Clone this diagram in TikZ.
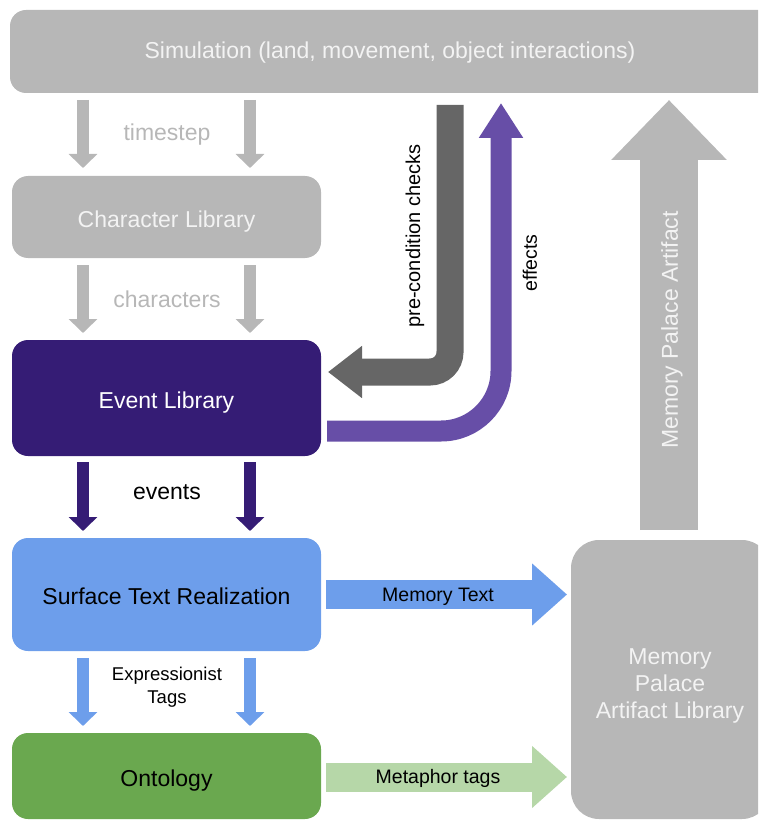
\documentclass[tikz,border=0pt]{standalone}
\usepackage{fontspec}
\setmainfont{Liberation Sans}
\usetikzlibrary{arrows.meta}
\definecolor{boxgray}{HTML}{B7B7B7}
\definecolor{evpurple}{HTML}{351C75}
\definecolor{effpurple}{HTML}{674EA7}
\definecolor{chkgray}{HTML}{666666}
\definecolor{stblue}{HTML}{6D9EEB}
\definecolor{ontgreen}{HTML}{6AA84F}
\definecolor{lightgreen}{HTML}{B6D7A8}
\definecolor{softwhite}{HTML}{F3F3F3}
\begin{document}
\begin{tikzpicture}[x=1pt,y=-1pt,
  box/.style={rounded corners=16pt, inner sep=0pt, align=center, text height=20pt, text depth=0pt, font=\fontsize{23}{27}\selectfont},
  bigtxt/.style={inner sep=0pt, align=center, font=\fontsize{23}{27}\selectfont},
  midtxt/.style={inner sep=0pt, align=center, font=\fontsize{19.5}{23}\selectfont},
  smalltxt/.style={inner sep=0pt, align=center, font=\fontsize{18.5}{23}\selectfont},
  downarrow/.style={line width=12pt, -{Triangle[width=28pt,length=14pt]}},
  sidearrow/.style={line width=29pt, -{Triangle[width=60pt,length=35pt]}},
]
\useasboundingbox (0,0) rectangle (758,821);
\clip (0,0) rectangle (758,821);

% boxes
\node[box, fill=boxgray, minimum width=800pt, minimum height=83pt] (sim) at (410,51.5) {};
\node[bigtxt, text=softwhite] (simtxt) at (390,53) {Simulation (land, movement, object interactions)};
\node[box, fill=boxgray, text=softwhite, minimum width=309pt, minimum height=82pt] (char) at (166.5,217) {Character Library};
\node[box, fill=evpurple, text=white, minimum width=309pt, minimum height=116pt] (evt) at (166.5,398) {Event Library};
\node[box, fill=stblue, text=black, minimum width=309pt, minimum height=113pt] (surf) at (166.5,594.5) {Surface Text Realization};
\node[box, fill=ontgreen, text=black, minimum width=309pt, minimum height=86pt] (ont) at (166.5,776) {Ontology};
\node[box, rounded corners=28pt, fill=boxgray, minimum width=199pt, minimum height=279pt] (mpal) at (670.5,679.5) {};
\node[bigtxt, text=softwhite] (mpaltxt) at (670,685.5) {Memory\\Palace\\Artifact Library};

% coordinates for arrow ends
\coordinate (t1a) at (83,100);  \coordinate (t1b) at (83,168);
\coordinate (t2a) at (250,100); \coordinate (t2b) at (250,168);
\coordinate (c1a) at (83,265);  \coordinate (c1b) at (83,333);
\coordinate (c2a) at (250,265); \coordinate (c2b) at (250,333);
\coordinate (e1a) at (83,462);  \coordinate (e1b) at (83,531);
\coordinate (e2a) at (250,462); \coordinate (e2b) at (250,531);
\coordinate (x1a) at (83,658);  \coordinate (x1b) at (83,726);
\coordinate (x2a) at (250,658); \coordinate (x2b) at (250,726);
\coordinate (mta) at (326,594.5); \coordinate (mtb) at (567,594.5);
\coordinate (mfa) at (326,777);   \coordinate (mfb) at (567,777);
\coordinate (upa) at (669,530);   \coordinate (upb) at (669,100);
\coordinate (pca) at (450,105);   \coordinate (pcc) at (450,372); \coordinate (pcb) at (328,372);
\coordinate (efa) at (327,431);   \coordinate (efc) at (501,431); \coordinate (efb) at (501,103);

% vertical arrows
\draw[downarrow, boxgray] (t1a) -- (t1b);
\draw[downarrow, boxgray] (t2a) -- (t2b);
\draw[downarrow, boxgray] (c1a) -- (c1b);
\draw[downarrow, boxgray] (c2a) -- (c2b);
\draw[downarrow, evpurple] (e1a) -- (e1b);
\draw[downarrow, evpurple] (e2a) -- (e2b);
\draw[downarrow, stblue] (x1a) -- (x1b);
\draw[downarrow, stblue] (x2a) -- (x2b);

% side arrows
\draw[sidearrow, stblue] (mta) -- (mtb);
\draw[sidearrow, lightgreen] (mfa) -- (mfb);

% up arrow
\draw[boxgray, line width=58pt, -{Triangle[width=112pt,length=60pt]}] (upa) -- (upb);

% bent arrows
\draw[chkgray, line width=27pt, rounded corners=20pt, -{Triangle[width=50pt,length=34pt]}] (pca) -- (pcc) -- (pcb);
\draw[effpurple, line width=21pt, rounded corners=60pt, -{Triangle[width=42pt,length=35pt]}] (efa) -- (efc) -- (efb);

% labels
\node[bigtxt, text=boxgray] (lts) at (167,135) {timestep};
\node[bigtxt, text=boxgray] (lch) at (167,299) {characters};
\node[bigtxt, text=black] (lev) at (167,492) {events};
\node[smalltxt, text=black] (lex) at (167,687) {Expressionist\\Tags};
\node[midtxt, text=black] (lmt) at (438,597) {Memory Text};
\node[midtxt, text=black] (lmf) at (438,778) {Metaphor tags};
\node[bigtxt, text=softwhite, rotate=90] (lmp) at (672,330) {Memory Palace Artifact};
\node[inner sep=0pt, font=\fontsize{20}{24}\selectfont, rotate=90] (lpc) at (415,236) {pre-condition checks};
\node[midtxt, rotate=90] (lef) at (530,263) {effects};
\end{tikzpicture}
\end{document}
